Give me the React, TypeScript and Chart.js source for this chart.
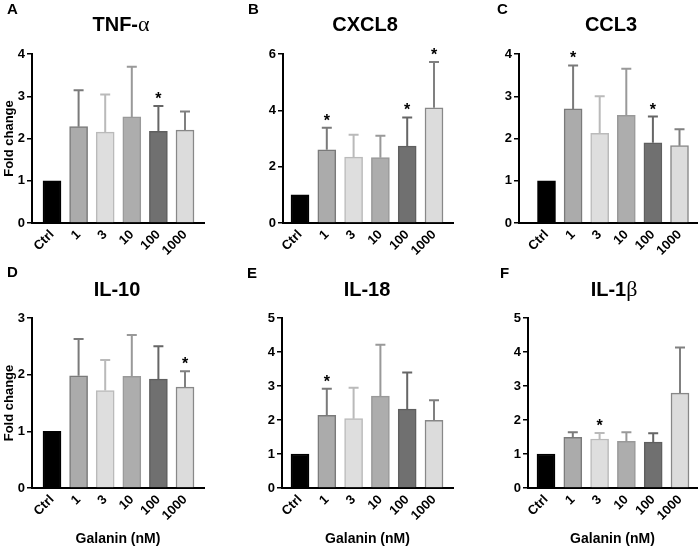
import React, { useEffect, useRef } from "react";
import { Chart, registerables } from "chart.js";

Chart.register(...registerables);

// ---------------- data ----------------
const categories = ["Ctrl", "1", "3", "10", "100", "1000"];

const tnfMean = [1.0, 2.28, 2.15, 2.51, 2.17, 2.2];
const tnfUpper = [1.0, 3.14, 3.04, 3.7, 2.77, 2.64];
const tnfStars = [false, false, false, false, true, false];
const tnfTicks = [0, 1, 2, 3, 4];

const cxcl8Mean = [1.0, 2.6, 2.34, 2.32, 2.73, 4.09];
const cxcl8Upper = [1.0, 3.38, 3.13, 3.1, 3.75, 5.72];
const cxcl8Stars = [false, true, false, false, true, true];
const cxcl8Ticks = [0, 2, 4, 6];

const ccl3Mean = [1.0, 2.7, 2.12, 2.55, 1.9, 1.83];
const ccl3Upper = [1.0, 3.73, 3.0, 3.65, 2.52, 2.22];
const ccl3Stars = [false, true, false, false, true, false];
const ccl3Ticks = [0, 1, 2, 3, 4];

const il10Mean = [1.0, 1.98, 1.72, 1.97, 1.92, 1.78];
const il10Upper = [1.0, 2.63, 2.26, 2.7, 2.5, 2.06];
const il10Stars = [false, false, false, false, false, true];
const il10Ticks = [0, 1, 2, 3];

const il18Mean = [1.0, 2.14, 2.04, 2.7, 2.32, 1.99];
const il18Upper = [1.0, 2.92, 2.95, 4.21, 3.4, 2.58];
const il18Stars = [false, true, false, false, false, false];
const il18Ticks = [0, 1, 2, 3, 4, 5];

const il1bMean = [1.0, 1.49, 1.44, 1.37, 1.35, 2.79];
const il1bUpper = [1.0, 1.64, 1.62, 1.64, 1.61, 4.13];
const il1bStars = [false, false, true, false, false, false];
const il1bTicks = [0, 1, 2, 3, 4, 5];

const yAxisTitle = "Fold change";
const xAxisTitle = "Galanin (nM)";

// ---------------- styles ----------------
const barFill = ["#000000", "#ababab", "#dedede", "#adadad", "#707070", "#dcdcdc"];
const barBorder = ["#000000", "#7a7a7a", "#bababa", "#999999", "#5f5f5f", "#888888"];
const errColor = ["#000000", "#7a7a7a", "#bababa", "#999999", "#666666", "#808080"];

const SANS = "Arial, 'Liberation Sans', Helvetica, sans-serif";
const SERIF = "'Liberation Serif', 'Times New Roman', Times, serif";

type Panel = {
  letter: string;
  letterX: number;
  letterBase: number;
  title: string;
  greek: string;
  titleX: number;
  titleBase: number;
  means: number[];
  upper: number[];
  stars: boolean[];
  yTicks: number[];
  cell: { x: number; y: number; w: number; h: number };
  plot: { l: number; r: number; t: number; b: number };
  firstCenter: number;
  lastCenter: number;
  showYTitle: boolean;
  showXTitle: boolean;
};

const panels: Panel[] = [
  {
    letter: "A", letterX: 7, letterBase: 14, title: "TNF-", greek: "α", titleX: 121, titleBase: 31,
    means: tnfMean, upper: tnfUpper, stars: tnfStars, yTicks: tnfTicks,
    cell: { x: 0, y: 0, w: 230, h: 262 }, plot: { l: 32, r: 204, t: 54, b: 223 },
    firstCenter: 52, lastCenter: 185, showYTitle: true, showXTitle: false,
  },
  {
    letter: "B", letterX: 248, letterBase: 14, title: "CXCL8", greek: "", titleX: 365, titleBase: 31,
    means: cxcl8Mean, upper: cxcl8Upper, stars: cxcl8Stars, yTicks: cxcl8Ticks,
    cell: { x: 230, y: 0, w: 230, h: 262 }, plot: { l: 283, r: 453, t: 54, b: 223 },
    firstCenter: 300, lastCenter: 434, showYTitle: false, showXTitle: false,
  },
  {
    letter: "C", letterX: 497, letterBase: 14, title: "CCL3", greek: "", titleX: 611, titleBase: 31,
    means: ccl3Mean, upper: ccl3Upper, stars: ccl3Stars, yTicks: ccl3Ticks,
    cell: { x: 460, y: 0, w: 240, h: 262 }, plot: { l: 519, r: 697, t: 54, b: 223 },
    firstCenter: 546.5, lastCenter: 679.5, showYTitle: false, showXTitle: false,
  },
  {
    letter: "D", letterX: 7, letterBase: 277, title: "IL-10", greek: "", titleX: 117, titleBase: 296,
    means: il10Mean, upper: il10Upper, stars: il10Stars, yTicks: il10Ticks,
    cell: { x: 0, y: 262, w: 230, h: 286 }, plot: { l: 32, r: 204, t: 318, b: 488 },
    firstCenter: 52, lastCenter: 185, showYTitle: true, showXTitle: true,
  },
  {
    letter: "E", letterX: 247, letterBase: 278, title: "IL-18", greek: "", titleX: 367, titleBase: 296,
    means: il18Mean, upper: il18Upper, stars: il18Stars, yTicks: il18Ticks,
    cell: { x: 230, y: 262, w: 230, h: 286 }, plot: { l: 282, r: 453, t: 318, b: 488 },
    firstCenter: 300, lastCenter: 434, showYTitle: false, showXTitle: true,
  },
  {
    letter: "F", letterX: 500, letterBase: 278, title: "IL-1", greek: "β", titleX: 614, titleBase: 296,
    means: il1bMean, upper: il1bUpper, stars: il1bStars, yTicks: il1bTicks,
    cell: { x: 460, y: 262, w: 240, h: 286 }, plot: { l: 528, r: 697, t: 318, b: 488 },
    firstCenter: 546, lastCenter: 680, showYTitle: false, showXTitle: true,
  },
];

function PanelChart({ p }: { p: Panel }) {
  const ref = useRef<HTMLCanvasElement | null>(null);

  useEffect(() => {
    const canvas = ref.current;
    if (!canvas) return;
    const n = categories.length;
    const spacing = (p.lastCenter - p.firstCenter) / (n - 1);
    const xMin = -(p.firstCenter - p.plot.l) / spacing;
    const xMax = n - 1 + (p.plot.r - p.lastCenter) / spacing;
    const ox = p.cell.x;
    const oy = p.cell.y;

    const deco = {
      id: "panelDeco" + p.letter,
      afterDatasetsDraw(chart: any) {
        const ctx = chart.ctx;
        const ys = chart.scales.y;
        const meta = chart.getDatasetMeta(0);
        meta.data.forEach((bar: any, i: number) => {
          const up = p.upper[i];
          const v = p.means[i];
          ctx.save();
          let topY = bar.y;
          if (up > v) {
            const yTop = ys.getPixelForValue(up);
            topY = yTop;
            ctx.strokeStyle = errColor[i];
            ctx.lineWidth = 2;
            ctx.beginPath();
            ctx.moveTo(bar.x, bar.y);
            ctx.lineTo(bar.x, yTop);
            ctx.moveTo(bar.x - 5, yTop);
            ctx.lineTo(bar.x + 5, yTop);
            ctx.stroke();
          }
          if (p.stars[i]) {
            ctx.fillStyle = "#000";
            ctx.font = `bold 16px ${SANS}`;
            ctx.textAlign = "center";
            ctx.textBaseline = "alphabetic";
            ctx.fillText("*", bar.x, topY - 2);
          }
          ctx.restore();
        });
      },
      afterDraw(chart: any) {
        const ctx = chart.ctx;
        ctx.save();
        ctx.fillStyle = "#000";
        ctx.textBaseline = "alphabetic";
        // panel letter
        ctx.font = `bold 15px ${SANS}`;
        ctx.textAlign = "left";
        ctx.fillText(p.letter, p.letterX - ox, p.letterBase - oy);
        // title
        const mainFont = `bold 20px ${SANS}`;
        const greekFont = `22px ${SERIF}`;
        ctx.font = mainFont;
        const w1 = ctx.measureText(p.title).width;
        ctx.font = greekFont;
        const w2 = p.greek ? ctx.measureText(p.greek).width : 0;
        const start = p.titleX - ox - (w1 + w2) / 2;
        ctx.font = mainFont;
        ctx.fillText(p.title, start, p.titleBase - oy);
        if (p.greek) {
          ctx.font = greekFont;
          ctx.fillText(p.greek, start + w1, p.titleBase - oy);
        }
        // y axis title
        if (p.showYTitle) {
          ctx.save();
          ctx.font = `bold 13px ${SANS}`;
          ctx.textAlign = "center";
          ctx.translate(12.5 - ox, (p.plot.t + p.plot.b) / 2 - oy);
          ctx.rotate(-Math.PI / 2);
          ctx.fillText(yAxisTitle, 0, 0);
          ctx.restore();
        }
        if (p.showXTitle) {
          ctx.font = `bold 14px ${SANS}`;
          ctx.textAlign = "center";
          ctx.fillText(xAxisTitle, (p.plot.l + p.plot.r) / 2 - ox, 543 - oy);
        }
        ctx.restore();
      },
    };

    const chart = new Chart(canvas, {
      type: "bar",
      data: {
        datasets: [
          {
            data: p.means.map((v, i) => ({ x: i, y: v })),
            backgroundColor: barFill,
            borderColor: barBorder,
            borderWidth: 1.5,
            barThickness: 18,
          } as any,
        ],
      },
      options: {
        responsive: false,
        animation: false,
        events: [],
        layout: {
          padding: {
            top: p.plot.t - oy,
            right: ox + p.cell.w - p.plot.r,
            bottom: 0,
            left: 0,
          },
        },
        plugins: {
          legend: { display: false },
          tooltip: { enabled: false },
          title: { display: false },
        },
        scales: {
          x: {
            type: "linear",
            min: xMin,
            max: xMax,
            offset: false,
            afterBuildTicks: (s: any) => {
              s.ticks = categories.map((_, i) => ({ value: i }));
            },
            afterFit: (s: any) => {
              s.height = oy + p.cell.h - p.plot.b;
            },
            ticks: {
              autoSkip: false,
              minRotation: 45,
              maxRotation: 45,
              padding: 4,
              color: "#000",
              font: { family: SANS, weight: "bold", size: 13 },
              callback: (v: any) => categories[Math.round(Number(v))] ?? "",
            },
            grid: { display: true, drawOnChartArea: false, drawTicks: false, color: "#000" },
            border: { display: true, color: "#000", width: 2 },
          } as any,
          y: {
            type: "linear",
            min: p.yTicks[0],
            max: p.yTicks[p.yTicks.length - 1],
            afterBuildTicks: (s: any) => {
              s.ticks = p.yTicks.map((v) => ({ value: v }));
            },
            afterFit: (s: any) => {
              s.width = p.plot.l - ox;
            },
            ticks: {
              padding: 2,
              color: "#000",
              font: { family: SANS, weight: "bold", size: 13 },
            },
            grid: {
              display: true,
              drawOnChartArea: false,
              drawTicks: true,
              tickLength: 5,
              color: "#000",
              lineWidth: 1.5,
            },
            border: { display: true, color: "#000", width: 2 },
          } as any,
        },
      },
      plugins: [deco as any],
    });
    return () => chart.destroy();
  }, [p]);

  return (
    <canvas
      ref={ref}
      width={p.cell.w}
      height={p.cell.h}
      style={{
        position: "absolute",
        left: p.cell.x,
        top: p.cell.y,
        width: p.cell.w,
        height: p.cell.h,
        display: "block",
      }}
    />
  );
}

export default function App() {
  return (
    <div
      style={{
        position: "absolute",
        left: 0,
        top: 0,
        width: 700,
        height: 548,
        background: "#fff",
        overflow: "hidden",
      }}
    >
      {panels.map((p) => (
        <PanelChart key={p.letter} p={p} />
      ))}
    </div>
  );
}
